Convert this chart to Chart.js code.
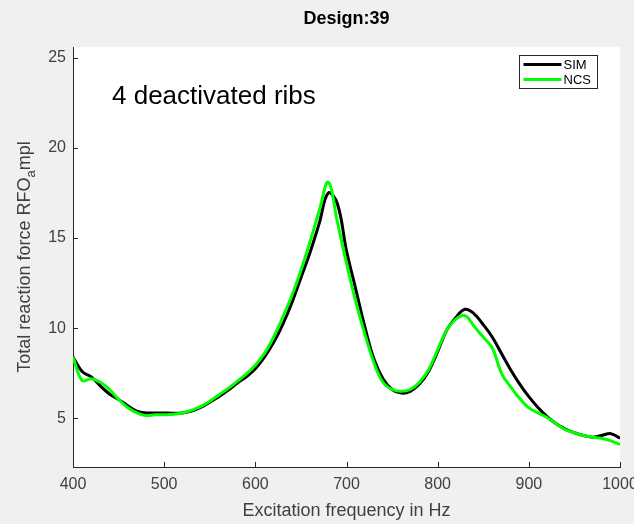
<!DOCTYPE html>
<html>
<head>
<meta charset="utf-8">
<script src="https://cdn.jsdelivr.net/npm/chart.js@4.4.1/dist/chart.umd.min.js"></script>
<style>
  body { margin: 0; background: #f0f0f0; }
  #box { width: 634px; height: 524px; }
</style>
</head>
<body>
<div id="box"><canvas id="designChart"></canvas></div>
<script>
// excitation frequency (Hz)
const freqs = [400,410,420,430,440,450,460,470,480,490,
               500,510,520,530,540,550,560,570,580,590,
               600,610,620,630,640,650,660,670,680,690,
               700,710,720,730,740,750,760,770,780,790,
               800,810,820,830,840,850,860,870,880,890,
               900,910,920,930,940,950,960,970,980,990,1000];
// total reaction force, simulation
const simValues = [8.4,7.6,7.3,6.8,6.35,6.05,5.7,5.4,5.3,5.3,
                   5.3,5.28,5.3,5.4,5.6,5.9,6.2,6.55,6.95,7.3,
                   7.75,8.4,9.2,10.2,11.4,12.8,14.2,15.8,17.5,16.9,
                   14.3,12.2,10.1,8.3,7.2,6.6,6.4,6.5,6.9,7.6,
                   8.7,9.9,10.6,11.05,10.8,10.2,9.5,8.6,7.7,6.9,
                   6.2,5.6,5.1,4.7,4.4,4.2,4.05,3.95,4.05,4.15,3.9];
// total reaction force, NCS
const ncsValues = [8.4,7.1,7.2,7.0,6.6,6.05,5.6,5.3,5.15,5.2,
                   5.2,5.22,5.3,5.45,5.65,5.95,6.3,6.65,7.05,7.45,
                   7.95,8.6,9.5,10.6,11.8,13.2,14.8,16.5,18.1,15.9,
                   13.6,11.5,9.7,8.1,7.0,6.6,6.5,6.6,7.0,7.7,
                   8.8,9.9,10.5,10.7,10.1,9.5,8.9,7.5,6.75,6.1,
                   5.58,5.3,5.05,4.7,4.37,4.2,4.05,3.95,3.88,3.75,3.55];
const xTicks = [400,500,600,700,800,900,1000];
const yTicks = [5,10,15,20,25];

const axisColor = '#262626';
const labelColor = '#404040';
const fontName = '"Liberation Sans", Arial, sans-serif';

// matlab style: grey figure, white axes, inward ticks, legend box, texts
const matlabLook = {
  id: 'matlabLook',
  beforeDraw(chart) {
    const ctx = chart.ctx, a = chart.chartArea;
    ctx.save();
    ctx.fillStyle = '#f0f0f0';
    ctx.fillRect(0, 0, chart.width, chart.height);
    ctx.fillStyle = '#ffffff';
    ctx.fillRect(a.left, a.top, a.right - a.left, a.bottom - a.top);
    ctx.restore();
  },
  afterDraw(chart) {
    const ctx = chart.ctx, a = chart.chartArea;
    const xs = chart.scales.x, ys = chart.scales.y;
    ctx.save();
    ctx.strokeStyle = axisColor;
    ctx.lineWidth = 1;
    ctx.beginPath();
    xTicks.forEach(v => {
      const px = Math.round(xs.getPixelForValue(v)) + 0.5;
      ctx.moveTo(px, a.bottom);
      ctx.lineTo(px, a.bottom - 5);
    });
    yTicks.forEach(v => {
      const py = Math.round(ys.getPixelForValue(v)) + 0.5;
      ctx.moveTo(a.left, py);
      ctx.lineTo(a.left + 5, py);
    });
    ctx.stroke();

    // title
    ctx.fillStyle = '#000';
    ctx.font = 'bold 18px ' + fontName;
    ctx.textAlign = 'center';
    ctx.textBaseline = 'middle';
    ctx.fillText('Design:39', (a.left + a.right) / 2, 19);

    // x axis title
    ctx.fillStyle = labelColor;
    ctx.font = '18px ' + fontName;
    ctx.fillText('Excitation frequency in Hz', (a.left + a.right) / 2, 511);

    // y axis title with subscript
    const main = 'Total reaction force RFO', sub = 'a', tail = 'mpl';
    ctx.font = '18px ' + fontName;
    const w1 = ctx.measureText(main).width, w3 = ctx.measureText(tail).width;
    ctx.font = '13px ' + fontName;
    const w2 = ctx.measureText(sub).width;
    const total = w1 + w2 + w3;
    ctx.translate(30, (a.top + a.bottom) / 2);
    ctx.rotate(-Math.PI / 2);
    ctx.textAlign = 'left';
    ctx.textBaseline = 'alphabetic';
    ctx.font = '18px ' + fontName;
    ctx.fillText(main, -total / 2, 0);
    ctx.font = '13px ' + fontName;
    ctx.fillText(sub, -total / 2 + w1, 5);
    ctx.font = '18px ' + fontName;
    ctx.fillText(tail, -total / 2 + w1 + w2, 0);
    ctx.setTransform(1, 0, 0, 1, 0, 0);

    // annotation
    ctx.fillStyle = '#000';
    ctx.font = '26px ' + fontName;
    ctx.textAlign = 'left';
    ctx.textBaseline = 'middle';
    ctx.fillText('4 deactivated ribs', 112, 97);

    // legend
    const lx = 519.5, ly = 55.5, lw = 78, lh = 33;
    ctx.fillStyle = '#fff';
    ctx.fillRect(lx, ly, lw, lh);
    ctx.lineWidth = 1;
    ctx.strokeStyle = axisColor;
    ctx.strokeRect(lx, ly, lw, lh);
    chart.data.datasets.forEach((ds, i) => {
      const y = ly + 9 + i * 15;
      ctx.strokeStyle = ds.borderColor;
      ctx.lineWidth = 3;
      ctx.beginPath();
      ctx.moveTo(lx + 4, y);
      ctx.lineTo(lx + 42, y);
      ctx.stroke();
      ctx.fillStyle = '#000';
      ctx.font = '13px ' + fontName;
      ctx.fillText(ds.label, lx + 44, y + 1);
    });
    ctx.restore();
  }
};

new Chart(document.getElementById('designChart'), {
  type: 'line',
  data: {
    datasets: [{
      label: 'SIM',
      data: freqs.map((f, i) => ({x: f, y: simValues[i]})),
      borderColor: '#000000',
      borderWidth: 3,
      order: 2
    }, {
      label: 'NCS',
      data: freqs.map((f, i) => ({x: f, y: ncsValues[i]})),
      borderColor: '#00ff00',
      borderWidth: 3,
      order: 1
    }]
  },
  options: {
    responsive: true,
    maintainAspectRatio: false,
    animation: false,
    elements: {
      point: { radius: 0 },
      line: { tension: 0.4 }
    },
    layout: { padding: { top: 47, right: 14, left: 0, bottom: 0 } },
    plugins: {
      legend: { display: false },
      tooltip: { enabled: false }
    },
    scales: {
      x: {
        type: 'linear',
        min: 400,
        max: 1000,
        afterFit: s => { s.height = 57; s.paddingLeft = 0; s.paddingRight = 0; },
        afterBuildTicks: s => { s.ticks = xTicks.map(v => ({value: v})); },
        grid: { drawOnChartArea: false, drawTicks: false },
        border: { color: axisColor, width: 1 },
        ticks: { color: labelColor, padding: 8, maxRotation: 0,
                 callback: v => String(v),
                 font: { family: fontName, size: 16 } }
      },
      y: {
        min: 2.3,
        max: 25.6,
        afterFit: s => { s.width = 73; s.paddingTop = 0; s.paddingBottom = 0; },
        afterBuildTicks: s => { s.ticks = yTicks.map(v => ({value: v})); },
        grid: { drawOnChartArea: false, drawTicks: false },
        border: { color: axisColor, width: 1 },
        ticks: { color: labelColor, padding: 7,
                 font: { family: fontName, size: 16 } }
      }
    }
  },
  plugins: [matlabLook]
});
</script>
</body>
</html>
